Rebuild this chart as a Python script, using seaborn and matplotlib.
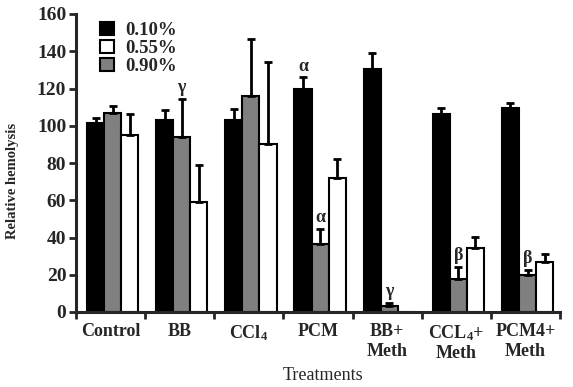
import matplotlib
matplotlib.use("Agg")
import matplotlib.pyplot as plt
import seaborn as sns
import pandas as pd
from matplotlib.patches import Patch

treatments = ["Control", "BB", "CCl$_\\mathregular{4}$", "PCM", "BB+\nMeth",
              "CCL$_\\mathregular{4}$+\nMeth", "PCM4+\nMeth"]
conc_010 = [101.5, 103, 103, 120, 130.5, 106.3, 109.7]
err_010 = [2.5, 5.5, 6, 6, 8.5, 3.4, 2.7]
conc_090 = [106.7, 94, 116, 36.5, 3.0, 17.7, 19.9]
err_090 = [4, 20.5, 30.4, 8, 2.0, 6.6, 2.6]
conc_055 = [95, 59, 90, 71.8, 0, 34.5, 27]
err_055 = [11.3, 20, 44, 10.2, 0, 5.9, 4]
yticks = [0, 20, 40, 60, 80, 100, 120, 140, 160]
annotations = [(1, "0.90%", "γ"), (3, "0.10%", "α"), (3, "0.90%", "α"),
               (4, "0.90%", "γ"), (5, "0.90%", "β"), (6, "0.90%", "β")]

hue_order = ["0.10%", "0.90%", "0.55%"]
colors = {"0.10%": "#000000", "0.90%": "#808080", "0.55%": "#ffffff"}

rows = []
for i, t in enumerate(treatments):
    rows.append((t, "0.10%", conc_010[i], err_010[i]))
    rows.append((t, "0.90%", conc_090[i], err_090[i]))
    rows.append((t, "0.55%", conc_055[i], err_055[i]))
df = pd.DataFrame(rows, columns=["treatment", "conc", "value", "err"])

sns.set_style("ticks")
plt.rcParams["font.family"] = ["Liberation Serif", "DejaVu Serif"]
plt.rcParams["mathtext.default"] = "regular"

fig = plt.figure(figsize=(5.73, 3.87), dpi=100)
ax = fig.add_axes([76 / 573, 1 - 312 / 387, 484 / 573, 298 / 387])

sns.barplot(data=df, x="treatment", y="value", hue="conc", hue_order=hue_order,
            order=treatments, palette=colors, errorbar=None, width=0.74,
            edgecolor="black", linewidth=1.5, legend=False, ax=ax)

# error bars (upper only)
bar_pos = {}
for k, h in enumerate(hue_order):
    container = ax.containers[k]
    for i, patch in enumerate(container.patches):
        patch.set_x(patch.get_x() + 0.03)
        xc = patch.get_x() + patch.get_width() / 2
        sub = df[(df.treatment == treatments[i]) & (df.conc == h)].iloc[0]
        bar_pos[(i, h)] = (xc, sub.value + sub.err)
        if sub.err > 0:
            ax.errorbar(xc, sub.value, yerr=[[0], [sub.err]], fmt="none",
                        ecolor="black", elinewidth=2, capsize=3, capthick=2,
                        zorder=1)

for gi, h, sym in annotations:
    xc, yt = bar_pos[(gi, h)]
    ax.annotate(sym, (xc, yt), xytext=(0, 2), textcoords="offset points",
                ha="center", va="bottom", fontsize=13, fontweight="bold")

ax.set_xlim(-0.5, 6.5)
ax.set_ylim(0, 160)
ax.set_yticks(yticks)
ax.set_yticklabels([str(v) for v in yticks], fontsize=14, fontweight="bold")
ax.set_xticks([i - 0.5 for i in range(len(treatments) + 1)])
ax.set_xticklabels([])
ax.set_xticks(range(len(treatments)), minor=True)
ax.set_xticklabels(treatments, minor=True, fontsize=13, fontweight="bold",
                   va="top")
ax.tick_params(axis="x", which="minor", length=0, pad=8)
ax.tick_params(axis="y", which="major", pad=2)
ax.tick_params(axis="both", which="major", length=5, width=2, direction="out")
for s in ["left", "bottom"]:
    ax.spines[s].set_linewidth(2.2)
sns.despine(ax=ax)

ax.set_ylabel("Relative hemolysis", fontsize=10.5, fontweight="bold")
ax.yaxis.set_label_coords(-0.118, 0.44)
ax.set_xlabel("Treatments", fontsize=13, va="center")
ax.xaxis.set_label_coords(0.51, -0.213)

handles = [Patch(facecolor=colors[h], edgecolor="black", linewidth=1.5, label=h)
           for h in ["0.10%", "0.55%", "0.90%"]]
ax.legend(handles=handles, loc="upper left", bbox_to_anchor=(0.035, 1.0),
          frameon=False, handlelength=0.7, handleheight=0.7, handletextpad=0.6,
          labelspacing=0.05, prop={"size": 13.5, "weight": "bold"},
          borderaxespad=0)

fig.savefig("out.png", dpi=100)
